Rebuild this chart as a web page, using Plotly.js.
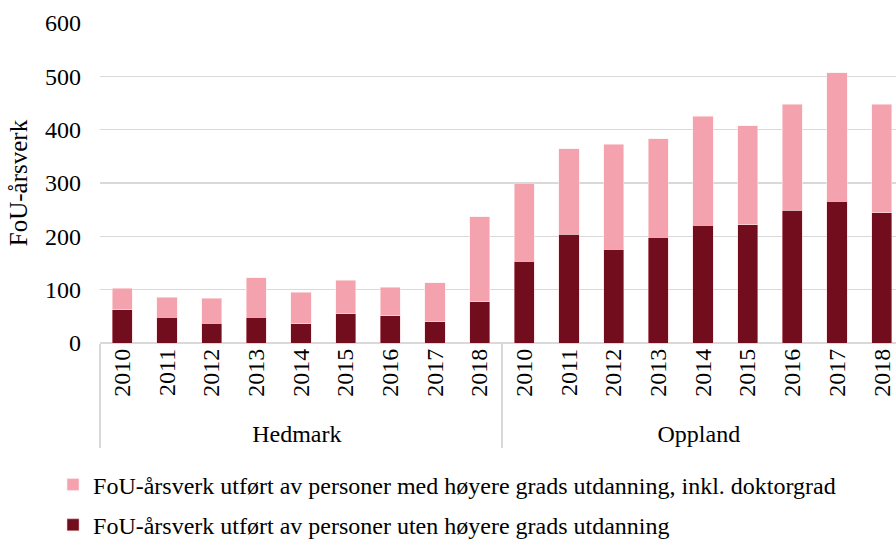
<!DOCTYPE html>
<html>
<head>
<meta charset="utf-8">
<script src="https://cdn.plot.ly/plotly-3.0.1.min.js"></script>
<style>html,body{margin:0;padding:0;background:#fff;}#chart{width:896px;height:540px;}</style>
</head>
<body>
<div id="chart"></div>
<script>
const regions = ["Hedmark", "Oppland"];
const years = ["2010","2011","2012","2013","2014","2015","2016","2017","2018"];
const utenHedmark = [62, 48, 37, 48, 36, 55, 51, 40, 77];
const medHedmark  = [41, 38, 47, 74, 59, 63, 54, 73, 160];
const utenOppland = [153, 204, 176, 198, 221, 222, 249, 266, 244];
const medOppland  = [147, 160, 197, 185, 204, 185, 199, 241, 204];
const nameMed = "FoU-årsverk utført av personer med høyere grads utdanning, inkl. doktorgrad";
const nameUten = "FoU-årsverk utført av personer uten høyere grads utdanning";

const outer = [], inner = [];
regions.forEach(r => years.forEach(y => { outer.push(r); inner.push(y); }));
const uten = utenHedmark.concat(utenOppland);
const med = medHedmark.concat(medOppland);

const FONT = "Liberation Serif, Times New Roman, serif";

const traces = [
  {type:"bar", x:[outer, inner], y:uten, name:nameUten, legendgroup:"a", legendrank:2,
   marker:{color:"#720d1d", line:{color:"rgba(255,200,205,0.6)", width:0.8}}},
  {type:"bar", x:[outer, inner], y:med, name:nameMed, legendgroup:"b", legendrank:1,
   marker:{color:"#f4a2ad", line:{color:"rgba(255,235,238,0.7)", width:0.8}}}
];

const layout = {
  width:896, height:540,
  margin:{l:100, r:0, t:23, b:197},
  barmode:"stack", bargap:0.55,
  paper_bgcolor:"#fff", plot_bgcolor:"#fff",
  font:{family:FONT, size:24, color:"#000"},
  xaxis:{type:"multicategory", tickangle:-90, showdividers:true, dividercolor:"#d9d9d9", dividerwidth:1.3,
         showline:false, ticks:"", range:[-0.5, 17.32], automargin:false,
         tickfont:{family:FONT, size:24, color:"#000"}},
  yaxis:{range:[0,600], dtick:100, gridcolor:"#d9d9d9", gridwidth:1.3, zeroline:true, zerolinecolor:"#d9d9d9",
         zerolinewidth:1.3, ticklabelstandoff:18, automargin:false, tickfont:{family:FONT, size:24, color:"#000"},
         title:{text:"FoU-årsverk", font:{family:FONT, size:25, color:"#000"}, standoff:10}},
  legend:{x:-0.059, xref:"paper", xanchor:"left", y:0.1435, yref:"container", yanchor:"top",
          font:{family:FONT, size:24, color:"#000"},
          traceorder:"grouped", tracegroupgap:6, bgcolor:"rgba(0,0,0,0)"},
  showlegend:true
};

Plotly.newPlot("chart", traces, layout, {displayModeBar:false, staticPlot:true});
</script>
</body>
</html>
